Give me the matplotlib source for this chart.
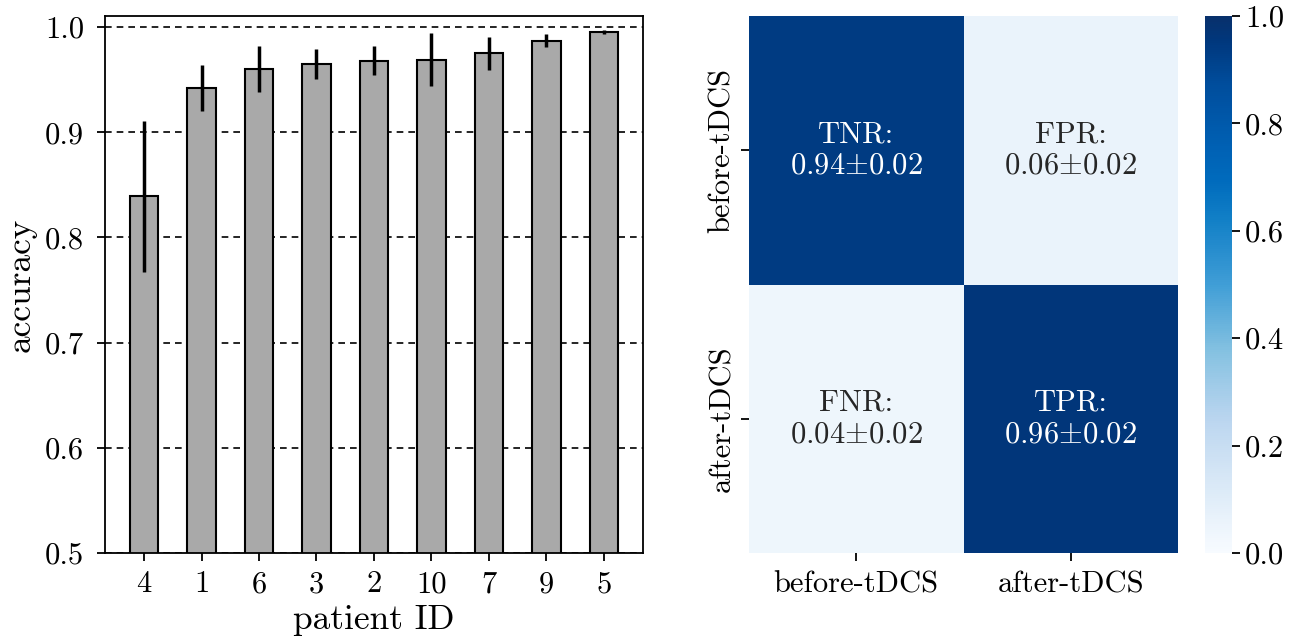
import matplotlib
matplotlib.use("Agg")
import matplotlib.pyplot as plt
from matplotlib import colors as mcolors
import numpy as np
import seaborn as sns

# per-patient accuracy, sorted ascending
patient_ids = ["4", "1", "6", "3", "2", "10", "7", "9", "5"]
accuracy = [0.839, 0.942, 0.960, 0.965, 0.968, 0.969, 0.975, 0.987, 0.995]
accuracy_std = [0.072, 0.022, 0.022, 0.014, 0.014, 0.025, 0.016, 0.006, 0.002]

# normalised confusion matrix (rows: true, cols: predicted)
classes = ["before-tDCS", "after-tDCS"]
rate_names = [["TNR", "FPR"], ["FNR", "TPR"]]
rates = [[0.94, 0.06], [0.04, 0.96]]
rates_std = [[0.02, 0.02], [0.02, 0.02]]

plt.rcParams["font.family"] = "serif"
plt.rcParams["font.serif"] = ["cmr10"]
plt.rcParams["mathtext.fontset"] = "cm"
plt.rcParams["axes.formatter.use_mathtext"] = True
plt.rcParams["font.size"] = 22

# Blues with more saturation through the middle of the range
v = np.linspace(0, 1, 256)
blues = plt.get_cmap("Blues")(v)[:, :3]
hsv = mcolors.rgb_to_hsv(blues)
hsv[:, 1] = np.clip(hsv[:, 1] * (1 + 1.6 * v * (1 - v)), 0, 1)
cmap = mcolors.ListedColormap(mcolors.hsv_to_rgb(hsv))

fig = plt.figure(figsize=(12.99, 6.43), dpi=100)
ax1 = fig.add_axes([0.0808, 0.14, 0.4142, 0.835])
ax2 = fig.add_axes([0.5766, 0.14, 0.3304, 0.835])
cax = fig.add_axes([0.9276, 0.14, 0.0208, 0.835])

# bar chart
x = np.arange(len(patient_ids))
ax1.bar(x, accuracy, width=0.5, color="darkgray", edgecolor="black",
        linewidth=1.5, zorder=2)
ax1.errorbar(x, accuracy, yerr=accuracy_std, fmt="none", ecolor="black",
             elinewidth=2.5, capsize=0, zorder=3)
ax1.set_xticks(x)
ax1.set_xticklabels(patient_ids)
ax1.set_xlim(-0.68, len(patient_ids) - 1 + 0.68)
ax1.set_ylim(0.5, 1.0105)
ax1.set_yticks([0.5, 0.6, 0.7, 0.8, 0.9, 1.0])
ax1.set_yticklabels(["0.5", "0.6", "0.7", "0.8", "0.9", "1.0"])
ax1.yaxis.grid(True, linestyle=(0, (4, 3)), color="black", linewidth=1.2, zorder=0)
ax1.set_axisbelow(True)
ax1.set_xlabel("patient ID", fontsize=25.5, labelpad=4)
ax1.set_ylabel("accuracy", fontsize=25.5, labelpad=6)
for s in ax1.spines.values():
    s.set_linewidth(1.3)
ax1.tick_params(width=1.3, length=6)
ax1.tick_params(axis="y", pad=9)
ax1.tick_params(axis="x", pad=7)

# confusion matrix
labels = np.array([[f"{rate_names[i][j]}:\n{rates[i][j]:.2f}$\\pm${rates_std[i][j]:.2f}"
                    for j in range(2)] for i in range(2)])
sns.heatmap(np.array(rates), ax=ax2, cbar_ax=cax, cmap=cmap, vmin=0, vmax=1,
            annot=labels, fmt="", annot_kws={"fontsize": 22},
            xticklabels=classes, yticklabels=classes)
ax2.set_yticklabels(classes, rotation=90, va="center")
ax2.set_xticklabels(classes, rotation=0)
ax2.tick_params(length=6, width=1.3)
ax2.tick_params(axis="x", pad=7)
cax.tick_params(length=6, width=1.3)
cax.set_yticks([0.0, 0.2, 0.4, 0.6, 0.8, 1.0])
cax.set_yticklabels(["0.0", "0.2", "0.4", "0.6", "0.8", "1.0"])

fig.savefig("out.png", dpi=100)
